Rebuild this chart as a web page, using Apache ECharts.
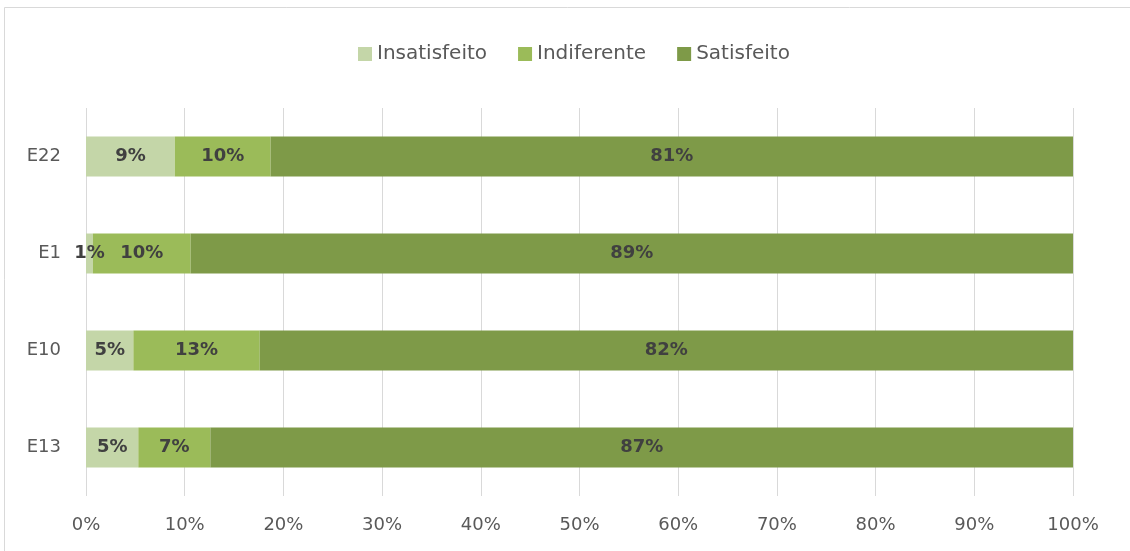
<!DOCTYPE html>
<html>
<head>
<meta charset="utf-8">
<script src="https://cdn.jsdelivr.net/npm/echarts@6/dist/echarts.min.js"></script>
<style>html,body{margin:0;padding:0;background:#fff;}#c{width:1130px;height:551px;}</style>
</head>
<body>
<div id="c"></div>
<script>
var categories = ['E22', 'E1', 'E10', 'E13'];
var seriesNames = ['Insatisfeito', 'Indiferente', 'Satisfeito'];
var insatisfeito = [9.0, 0.7, 4.8, 5.3];
var indiferente = [9.7, 9.9, 12.8, 7.3];
var satisfeito = [81.3, 89.4, 82.4, 87.4];
var colors = ['#C4D6A8', '#9BBB59', '#7E9A48'];
var values = [insatisfeito, indiferente, satisfeito];

var FONT = '"DejaVu Sans", "Open Sans", sans-serif';
var chart = echarts.init(document.getElementById('c'), null, {renderer: 'canvas'});
var series = seriesNames.map(function (name, i) {
  return {
    name: name,
    type: 'bar',
    stack: 'total',
    barWidth: 40,
    itemStyle: {color: colors[i]},
    label: {
      show: true,
      position: 'inside',
      formatter: function (p) { return Math.round(p.value) + '%'; },
      color: '#404040',
      fontWeight: 'bold',
      fontSize: 18,
      fontFamily: FONT
    },
    emphasis: {disabled: true},
    data: values[i]
  };
});

chart.setOption({
  animation: false,
  backgroundColor: '#fff',
  graphic: [{
    type: 'rect',
    shape: {x: 4.5, y: 7.5, width: 1200, height: 600},
    style: {fill: 'none', stroke: '#d9d9d9', lineWidth: 1},
    silent: true
  }],
  legend: {
    top: 39,
    left: 353,
    itemWidth: 14,
    itemHeight: 14,
    itemGap: 31,
    icon: 'rect',
    textStyle: {fontSize: 20, color: '#595959', fontFamily: FONT},
    data: seriesNames
  },
  grid: {left: 86, right: 57, top: 108, bottom: 55, containLabel: false},
  xAxis: {
    type: 'value',
    min: 0,
    max: 100,
    interval: 10,
    axisLabel: {formatter: '{value}%', fontSize: 18, color: '#595959', fontFamily: FONT, margin: 20},
    axisLine: {show: false},
    axisTick: {show: false},
    splitLine: {show: true, lineStyle: {color: '#d9d9d9', width: 1}}
  },
  yAxis: {
    type: 'category',
    inverse: true,
    data: categories,
    axisLabel: {fontSize: 18, color: '#595959', fontFamily: FONT, margin: 25},
    axisLine: {show: false},
    axisTick: {show: false}
  },
  series: series
});
</script>
</body>
</html>
